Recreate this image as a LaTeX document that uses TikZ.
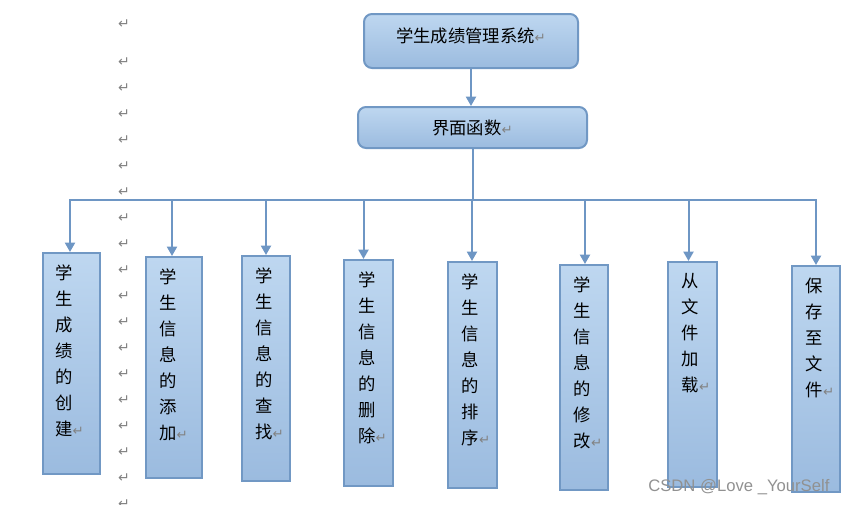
\documentclass[tikz,border=0pt]{standalone}
\usepackage{fontspec}
\setmainfont{Liberation Sans}
\newfontfamily\cjk{Noto Sans CJK SC}
\newfontfamily\sym{DejaVu Sans}
\usetikzlibrary{arrows.meta,calc}
\definecolor{boxtop}{RGB}{190,215,240}
\definecolor{boxbot}{RGB}{155,187,223}
\definecolor{edge}{RGB}{113,152,196}
\definecolor{linec}{RGB}{110,150,196}
\definecolor{retgray}{RGB}{130,130,130}
\definecolor{wm}{RGB}{145,145,145}
\newcommand\rmark{{\sym\fontsize{10pt}{10pt}\selectfont\color{retgray}↵}}
\begin{document}
\begin{tikzpicture}[x=0.75pt,y=-0.75pt,
  conn/.style={draw=linec, line width=1.5pt, -{Triangle[length=7pt,width=7.5pt]}},
  wire/.style={draw=linec, line width=1.5pt, line cap=rect},
  rbox/.style={draw=edge, line width=1.5pt, rounded corners=6pt, top color=boxtop, bottom color=boxbot, inner sep=0pt, font=\cjk\fontsize{13pt}{19.5pt}\selectfont},
  vbox/.style={draw=edge, line width=1.5pt, top color=boxtop, bottom color=boxbot, inner sep=0pt, anchor=north west},
  vtext/.style={anchor=north west, inner sep=0pt, align=left, font=\cjk\fontsize{13pt}{19.5pt}\selectfont},
  ret/.style={inner sep=0pt, font=\sym\fontsize{10.5pt}{10.5pt}\selectfont, text=retgray}]

\useasboundingbox (0,0) rectangle (865,504);

% paragraph marks column
\node[ret] (rt) at (124,24) {↵};
\foreach \i in {0,...,17} \node[ret] (r\i) at (124,{62+26*\i}) {↵};

% top boxes
\node[rbox, minimum width={214*0.75pt}, minimum height={54*0.75pt}, text height=11.4pt, text depth=9.8pt] (sys) at (471,41) {学生成绩管理系统\rmark};
\node[rbox, minimum width={229*0.75pt}, minimum height={41*0.75pt}] (ui) at (472.5,127.5) {界面函数\rmark};

% vertical boxes
\node[vbox, minimum width={57*0.75pt}, minimum height={221*0.75pt}] (b1) at (42,252) {};
\node[vbox, minimum width={56*0.75pt}, minimum height={221*0.75pt}] (b2) at (145,256) {};
\node[vbox, minimum width={48*0.75pt}, minimum height={225*0.75pt}] (b3) at (241,255) {};
\node[vbox, minimum width={49*0.75pt}, minimum height={226*0.75pt}] (b4) at (343,259) {};
\node[vbox, minimum width={49*0.75pt}, minimum height={226*0.75pt}] (b5) at (447,261) {};
\node[vbox, minimum width={48*0.75pt}, minimum height={225*0.75pt}] (b6) at (559,264) {};
\node[vbox, minimum width={49*0.75pt}, minimum height={225*0.75pt}] (b7) at (667,261) {};
\node[vbox, minimum width={48*0.75pt}, minimum height={226*0.75pt}] (b8) at (791,265) {};

\node[vtext] (t1) at ($(b1.north west)+(13,12.5)$) {学\\生\\成\\绩\\的\\创\\建\rmark};
\node[vtext] (t2) at ($(b2.north west)+(14,12.5)$) {学\\生\\信\\息\\的\\添\\加\rmark};
\node[vtext] (t3) at ($(b3.north west)+(14,12.5)$) {学\\生\\信\\息\\的\\查\\找\rmark};
\node[vtext] (t4) at ($(b4.north west)+(15,12.5)$) {学\\生\\信\\息\\的\\删\\除\rmark};
\node[vtext] (t5) at ($(b5.north west)+(14.5,12.5)$) {学\\生\\信\\息\\的\\排\\序\rmark};
\node[vtext] (t6) at ($(b6.north west)+(14.5,12.5)$) {学\\生\\信\\息\\的\\修\\改\rmark};
\node[vtext] (t7) at ($(b7.north west)+(14.5,12.5)$) {从\\文\\件\\加\\载\rmark};
\node[vtext] (t8) at ($(b8.north west)+(14.5,12.5)$) {保\\存\\至\\文\\件\rmark};

% arrow end points on the box tops
\coordinate (e1) at ($(b1.north)+(-1.5,0)$);
\coordinate (e2) at ($(b2.north)+(-2,0)$);
\coordinate (e3) at (b3.north);
\coordinate (e4) at ($(b4.north)+(-5,0)$);
\coordinate (e5) at ($(b5.north)+(-0.5,0)$);
\coordinate (e6) at ($(b6.north)+(1,0)$);
\coordinate (e7) at ($(b7.north)+(-4,0)$);
\coordinate (e8) at (b8.north);

% connectors
\coordinate (hl) at (0,200);
\draw[conn] (sys.south) -- (sys.south |- ui.north);
\draw[wire] (ui.south) -- (ui.south |- hl);
\draw[wire] (e1 |- hl) -- (e8 |- hl);
\foreach \i in {1,...,8} \draw[conn] (e\i |- hl) -- (e\i);

% watermark
\node[anchor=base west, inner sep=0pt, font=\fontsize{12.5pt}{12.5pt}\selectfont, text=wm] (wmk) at (648,491) {CSDN @Love \_YourSelf};
\end{tikzpicture}
\end{document}
